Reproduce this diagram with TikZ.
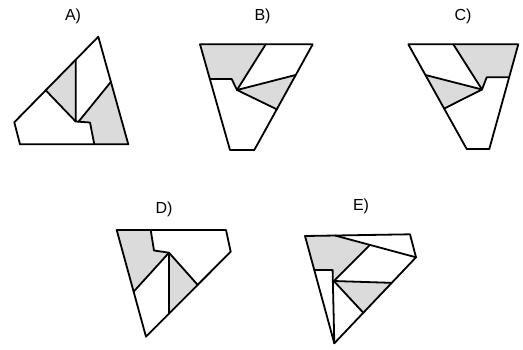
\documentclass[tikz,border=0pt]{standalone}
\usepackage{fontspec}
\setmainfont{Liberation Sans}
\usetikzlibrary{calc}
\begin{document}
\begin{tikzpicture}[x=1pt,y=-1pt,
  edge/.style={line width=1.8pt, line join=round, line cap=round},
  shd/.style={fill=gray!28},
  lbl/.style={font=\fontsize{16}{19}\selectfont, inner sep=0pt}]
\useasboundingbox (0,0) rectangle (523,349);

% ---------- A ----------
\coordinate (AT) at (98.3,36.7);
\coordinate (AR) at (128.3,144.3);
\coordinate (ABL) at (20,144.3);
\coordinate (AL) at (14.3,122.3);
\coordinate (AE1) at ($(AL)!0.374!(AT)$);
\coordinate (AE2) at ($(AL)!0.731!(AT)$);
\coordinate (AV) at (75.7,121.5);
\coordinate (AN1) at (90,122.5);
\coordinate (AN2) at (94.3,144.3);
\coordinate (AD0) at (78.5,121.7);
\coordinate (AD1) at ($(AT)!0.42!(AR)$);
\fill[shd] (AE1) -- (AE2) -- (AV) -- cycle;
\fill[shd] (AD0) -- (AD1) -- (AR) -- (AN2) -- (AN1) -- cycle;
\draw[edge] (AT) -- (AR) -- (ABL) -- (AL) -- cycle;
\draw[edge] (AE2) -- (AV) -- (AN1) -- (AN2);
\draw[edge] (AE1) -- (AV);
\draw[edge] (AD0) -- (AD1);
\node[lbl] (labA) at (73,16) {A)};

% ---------- B ----------
\coordinate (BTL) at (200,44.3);
\coordinate (BTR) at (312.7,44.3);
\coordinate (BBR) at (254.3,150);
\coordinate (BBL) at (230,150);
\coordinate (BN0) at ($(BTL)!0.328!(BBL)$);
\coordinate (BN1) at (231.7,79);
\coordinate (BC) at (237,90);
\coordinate (BD) at (265.7,44.3);
\coordinate (BR1) at ($(BTR)!0.29!(BBR)$);
\coordinate (BR2) at ($(BTR)!0.615!(BBR)$);
\fill[shd] (BTL) -- (BD) -- (BC) -- (BN1) -- (BN0) -- cycle;
\fill[shd] (BC) -- (BR1) -- (BR2) -- cycle;
\draw[edge] (BTL) -- (BTR) -- (BBR) -- (BBL) -- cycle;
\draw[edge] (BN0) -- (BN1) -- (BC);
\draw[edge] (BD) -- (BC);
\draw[edge] (BR1) -- (BC) -- (BR2);
\node[lbl] (labB) at (262.5,16) {B)};

% ---------- C ----------
\coordinate (CTL) at (408.3,44.3);
\coordinate (CTR) at (518.3,44.3);
\coordinate (CBR) at (489.3,149);
\coordinate (CBL) at (466.7,149);
\coordinate (CD) at (453.3,44.3);
\coordinate (CC) at (482,89.5);
\coordinate (CN1) at (486.7,77.3);
\coordinate (CN0) at ($(CTR)!0.315!(CBR)$);
\coordinate (CL1) at ($(CTL)!0.293!(CBL)$);
\coordinate (CL2) at ($(CTL)!0.614!(CBL)$);
\fill[shd] (CD) -- (CTR) -- (CN0) -- (CN1) -- (CC) -- cycle;
\fill[shd] (CC) -- (CL1) -- (CL2) -- cycle;
\draw[edge] (CTL) -- (CTR) -- (CBR) -- (CBL) -- cycle;
\draw[edge] (CN0) -- (CN1) -- (CC);
\draw[edge] (CD) -- (CC);
\draw[edge] (CL1) -- (CC) -- (CL2);
\node[lbl] (labC) at (463,16) {C)};

% ---------- D ----------
\coordinate (DTL) at (116.7,230);
\coordinate (DTR) at (226,230);
\coordinate (DR) at (230.7,251.7);
\coordinate (DB) at (146,336.7);
\coordinate (DN0) at (150.7,230);
\coordinate (DN1) at (154,250.5);
\coordinate (DC) at (169,252.7);
\coordinate (DL1) at ($(DTL)!0.578!(DB)$);
\coordinate (DV) at ($(DR)!0.728!(DB)$);
\coordinate (DR1) at ($(DR)!0.39!(DB)$);
\fill[shd] (DTL) -- (DN0) -- (DN1) -- (DC) -- (DL1) -- cycle;
\fill[shd] (DC) -- (DR1) -- (DV) -- cycle;
\draw[edge] (DTL) -- (DTR) -- (DR) -- (DB) -- cycle;
\draw[edge] (DN0) -- (DN1) -- (DC);
\draw[edge] (DL1) -- (DC) -- (DR1);
\draw[edge] (DC) -- (DV);
\node[lbl] (labD) at (164,209) {D)};

% ---------- E ----------
\coordinate (ETL) at (305,236);
\coordinate (ETR) at (410,234.3);
\coordinate (ER) at (416,257.3);
\coordinate (EB) at (334.3,343.3);
\coordinate (ED0) at (335,235.5);
\coordinate (ED1) at ($(ED0)!0.432!(ER)$);
\coordinate (EH0) at ($(ETL)!0.317!(EB)$);
\coordinate (EH1) at (332.6,270);
\coordinate (EC) at (333.8,281);
\coordinate (ER1) at ($(ER)!0.297!(EB)$);
\coordinate (ER2) at ($(ER)!0.645!(EB)$);
\fill[shd] (ETL) -- (ED0) -- (ED1) -- (EC) -- (EH1) -- (EH0) -- cycle;
\fill[shd] (EC) -- (ER1) -- (ER2) -- cycle;
\draw[edge] (ETL) -- (ETR) -- (ER) -- (EB) -- cycle;
\draw[edge] (ED0) -- (ER);
\draw[edge] (ED1) -- (EC);
\draw[edge] (EH0) -- (EH1) -- (EB);
\draw[edge] (EC) -- (ER1);
\draw[edge] (EC) -- (ER2);
\node[lbl] (labE) at (361,206) {E)};
\end{tikzpicture}
\end{document}
